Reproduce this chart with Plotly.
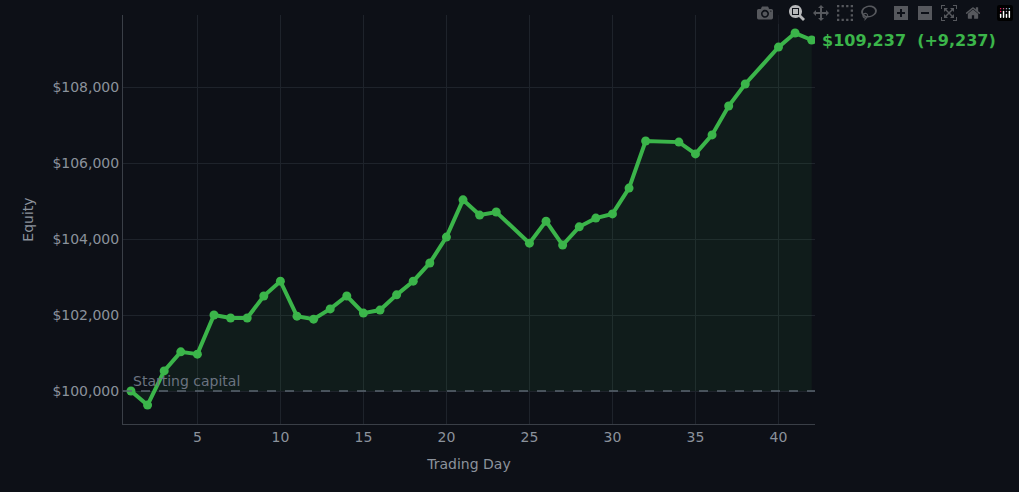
import plotly.graph_objects as go

days = [1,2,3,4,5,6,7,8,9,10,11,12,13,14,15,16,17,18,19,20,21,22,23,25,26,27,28,29,30,31,32,34,35,36,37,38,40,41,42]
equity = [100000,99630,100530,101030,100970,102000,101920,101920,102500,102890,101970,101890,102160,102500,102050,102130,102530,102890,103370,104050,105030,104630,104710,103890,104470,103840,104320,104550,104660,105340,106580,106550,106240,106740,107500,108080,109050,109420,109237]
start_capital = 100000
final_label = "$109,237  (+9,237)"

green = "#3bb54a"
fig = go.Figure()
fig.add_trace(go.Scatter(x=days, y=[start_capital]*len(days), mode="lines",
                         line=dict(width=0), hoverinfo="skip", showlegend=False))
fig.add_trace(go.Scatter(x=days, y=equity, mode="lines+markers", fill="tonexty",
                         fillcolor="rgba(59,181,74,0.08)",
                         line=dict(color=green, width=4), marker=dict(size=9, color=green),
                         showlegend=False))
fig.add_hline(y=start_capital, line=dict(color="#5a6470", width=1.5, dash="dash"))
fig.add_annotation(x=1, y=start_capital, text="Starting capital", showarrow=False,
                   xanchor="left", yanchor="bottom", font=dict(color="#6b7380", size=14))
fig.add_annotation(x=days[-1], y=equity[-1], text=f"<b>{final_label}</b>", showarrow=False,
                   xanchor="left", xshift=8, font=dict(color=green, size=16))

axis_common = dict(gridcolor="#1e232b", showline=True, linecolor="#3a3f47", linewidth=1,
                   tickfont=dict(color="#8b929c", size=14), zeroline=False, ticks="")
fig.update_xaxes(range=[0.52, 42.2], dtick=5, tick0=0, title=dict(text="Trading Day", font=dict(color="#8b929c", size=14)), **axis_common)
fig.update_yaxes(range=[99132, 109895], dtick=2000, tickformat="$,.0f",
                 title=dict(text="Equity", font=dict(color="#8b929c", size=14)), **axis_common)
fig.update_layout(width=1019, height=492, paper_bgcolor="#0d1017", plot_bgcolor="#0d1017",
                  margin=dict(l=123, r=204, t=15, b=68),
                  font=dict(family="DejaVu Sans"))
fig.write_html("out.html", post_script="document.body.style.margin='0';document.body.style.background='#0d1017';")
